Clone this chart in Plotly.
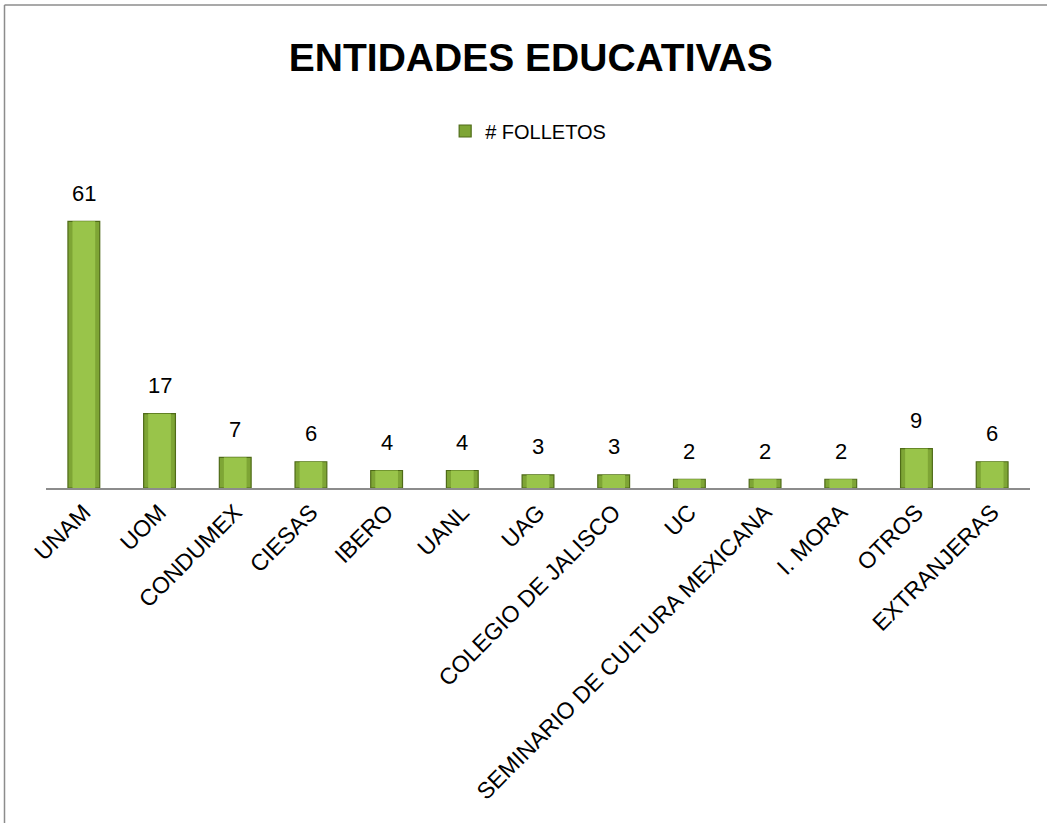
import plotly.graph_objects as go

categories = ["UNAM", "UOM", "CONDUMEX", "CIESAS", "IBERO", "UANL", "UAG",
              "COLEGIO DE JALISCO", "UC", "SEMINARIO DE CULTURA MEXICANA",
              "I. MORA", "OTROS", "EXTRANJERAS"]
values = [61, 17, 7, 6, 4, 4, 3, 3, 2, 2, 2, 9, 6]

font = "Liberation Sans, Arial, sans-serif"

fig = go.Figure()
fig.add_trace(go.Bar(
    x=categories, y=values, name="# FOLLETOS",
    marker=dict(color="#7ea535", line=dict(color="#4f6b18", width=1.2)),
    width=0.42,
))
fig.add_trace(go.Bar(
    x=categories, y=values, name="# FOLLETOS", showlegend=False,
    marker=dict(color="#99c44a", line=dict(width=0)),
    width=0.30, hoverinfo="skip",
))
for c, v in zip(categories, values):
    fig.add_annotation(x=c, y=v, text=str(v), showarrow=False, yshift=28,
                       font=dict(size=22, family=font, color="#000000"))

bx0 = (4.5 - 46) / 984
bx1 = 1 + 40 / 984
by0 = -(335 + 20) / 306
by1 = 1 + (182 - 5) / 306
border = dict(color="#8c8c8c", width=1.5)

fig.update_layout(
    width=1047, height=823,
    paper_bgcolor="white", plot_bgcolor="white",
    margin=dict(l=46, r=17, t=182, b=335),
    barmode="overlay",
    title=dict(text="<b>ENTIDADES EDUCATIVAS</b>", x=0.507, xanchor="center",
               xref="container", yref="container",
               y=0.9307, yanchor="middle",
               font=dict(size=39, family=font, color="#000000")),
    showlegend=True,
    legend=dict(orientation="h", x=0.49, xanchor="center", y=1.1667, yanchor="middle",
                font=dict(size=20, family=font, color="#000000"),
                itemwidth=30, bgcolor="rgba(0,0,0,0)"),
    xaxis=dict(showline=True, linecolor="#8c8c8c", linewidth=1.5, tickangle=-45,
               tickfont=dict(size=23, family=font, color="#000000"),
               ticks="", showgrid=False),
    yaxis=dict(range=[0, 70], visible=False, showgrid=False),
    shapes=[
        dict(type="line", xref="paper", yref="paper", x0=bx0, x1=bx1, y0=by1, y1=by1, line=border),
        dict(type="line", xref="paper", yref="paper", x0=bx0, x1=bx0, y0=by0, y1=by1, line=border),
    ],
)

fig.write_html("out.html", config={"displayModeBar": False},
               post_script="document.body.style.margin='0';document.body.style.overflow='hidden';")
